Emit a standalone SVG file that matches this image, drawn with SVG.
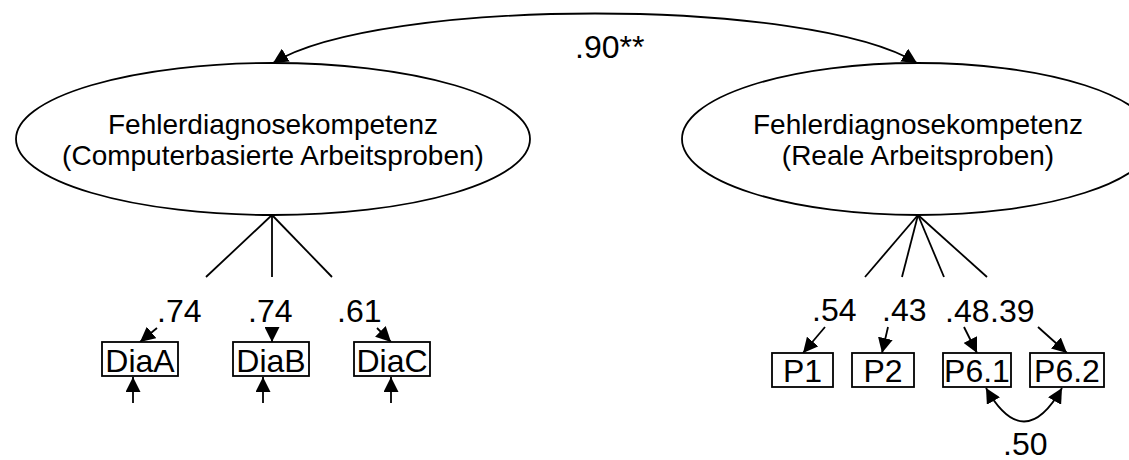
<svg xmlns="http://www.w3.org/2000/svg" width="1129" height="460" viewBox="0 0 1129 460">
<style>
.lat{fill:#fff;stroke:#000;stroke-width:1.8}
.box{fill:#fff;stroke:#000;stroke-width:1.8}
.t{font-family:"Liberation Sans",Arial,sans-serif;fill:#000}
.et{font-size:28px;text-anchor:middle}
.bt{font-size:32px;text-anchor:middle}
.lb{font-size:32px}
.c{fill:none;stroke:#000;stroke-width:1.8}
</style>
<defs>
<marker id="ah" markerUnits="userSpaceOnUse" markerWidth="15" markerHeight="15" viewBox="0 0 15 15" refX="15" refY="7.5" orient="auto-start-reverse">
<path d="M0,0 L15,7.5 L0,15 z" fill="#000"/>
</marker>
</defs>
<g id="connectors">
<path class="c" d="M917,63 C810,-3 380,-3 273,63" marker-start="url(#ah)" marker-end="url(#ah)"/>
<line class="c" x1="272" y1="215" x2="206" y2="277"/>
<line class="c" x1="272" y1="215" x2="272" y2="277"/>
<line class="c" x1="272" y1="215" x2="332" y2="277"/>
<line class="c" x1="157" y1="328" x2="140" y2="342" marker-end="url(#ah)"/>
<line class="c" x1="272" y1="327" x2="272" y2="342" marker-end="url(#ah)"/>
<line class="c" x1="377" y1="328" x2="391" y2="342" marker-end="url(#ah)"/>
<line class="c" x1="133" y1="403" x2="133" y2="377" marker-end="url(#ah)"/>
<line class="c" x1="263" y1="403" x2="263" y2="377" marker-end="url(#ah)"/>
<line class="c" x1="391" y1="403" x2="391" y2="377" marker-end="url(#ah)"/>
<line class="c" x1="918" y1="215" x2="865" y2="277"/>
<line class="c" x1="918" y1="215" x2="902" y2="277"/>
<line class="c" x1="918" y1="215" x2="944" y2="277"/>
<line class="c" x1="918" y1="215" x2="987" y2="277"/>
<line class="c" x1="825" y1="327" x2="803" y2="353" marker-end="url(#ah)"/>
<line class="c" x1="888" y1="327" x2="882" y2="353" marker-end="url(#ah)"/>
<line class="c" x1="964" y1="327" x2="977" y2="353" marker-end="url(#ah)"/>
<line class="c" x1="1038" y1="327" x2="1067" y2="353" marker-end="url(#ah)"/>
<path class="c" d="M986,388 Q1024,455 1062,388" marker-start="url(#ah)" marker-end="url(#ah)"/>
</g>
<g id="labels">
<text class="t lb" x="575" y="58">.90**</text>
<text class="t lb" x="157" y="322">.74</text>
<text class="t lb" x="248" y="322">.74</text>
<text class="t lb" x="337" y="322">.61</text>
<text class="t lb" x="812" y="321">.54</text>
<text class="t lb" x="882" y="321">.43</text>
<text class="t lb" x="945" y="322">.48</text>
<text class="t lb" x="990" y="322">.39</text>
<text class="t lb" x="1003" y="455">.50</text>
</g>
<g id="lat1">
<ellipse class="lat" cx="273" cy="139" rx="257" ry="76"/>
<text class="t et" x="273" y="134">Fehlerdiagnosekompetenz</text>
<text class="t et" x="273" y="165">(Computerbasierte Arbeitsproben)</text>
</g>
<g id="lat2">
<ellipse class="lat" cx="918" cy="139" rx="236" ry="76"/>
<text class="t et" x="918" y="134">Fehlerdiagnosekompetenz</text>
<text class="t et" x="918" y="165">(Reale Arbeitsproben)</text>
</g>
<g id="DiaA"><rect class="box" x="102" y="342" width="76" height="34"/><text class="t bt" x="140" y="372">DiaA</text></g>
<g id="DiaB"><rect class="box" x="233" y="342" width="76" height="34"/><text class="t bt" x="271" y="372">DiaB</text></g>
<g id="DiaC"><rect class="box" x="354" y="342" width="76" height="34"/><text class="t bt" x="392" y="372">DiaC</text></g>
<g id="P1"><rect class="box" x="772" y="353" width="61" height="34"/><text class="t bt" x="802.5" y="382">P1</text></g>
<g id="P2"><rect class="box" x="852" y="353" width="62" height="34"/><text class="t bt" x="883" y="382">P2</text></g>
<g id="P6_1"><rect class="box" x="943" y="353" width="68" height="34"/><text class="t bt" x="977" y="382">P6.1</text></g>
<g id="P6_2"><rect class="box" x="1030" y="353" width="74" height="34"/><text class="t bt" x="1067" y="382">P6.2</text></g>
</svg>
